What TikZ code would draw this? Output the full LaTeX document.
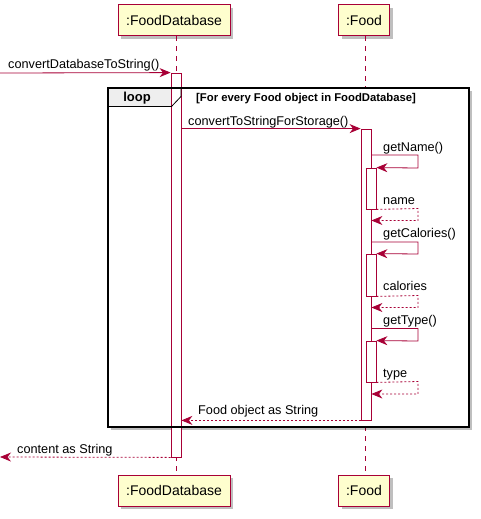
\documentclass[tikz,border=0pt]{standalone}
\usepackage{fontspec}
\setmainfont{Liberation Sans}
\usetikzlibrary{arrows.meta,shadows}
\definecolor{puborder}{HTML}{A80036}
\definecolor{pufill}{HTML}{FEFECE}
\definecolor{tabfill}{HTML}{EEEEEE}
\tikzset{
  participant/.style={draw=puborder, fill=pufill, line width=1pt, minimum height=31pt, inner sep=0pt,
     font=\fontsize{14}{16}\selectfont,
     drop shadow={shadow xshift=3pt, shadow yshift=-3pt, fill=black, opacity=0.25}},
  act/.style={draw=puborder, fill=white, line width=0.8pt, minimum width=10pt, inner sep=0pt},
  lifeline/.style={draw=puborder, line width=0.8pt, dash pattern=on 5pt off 5pt},
  msg/.style={draw=puborder, line width=0.8pt, -{Stealth[length=11pt,width=9pt,inset=3.5pt]}},
  ret/.style={msg, dash pattern=on 2pt off 2pt},
  lbl/.style={font=\fontsize{12.7}{15}\selectfont, inner sep=0pt, anchor=base west},
  frame/.style={draw=black, line width=1.6pt},
}
\begin{document}
\begin{tikzpicture}[x=1pt,y=-1pt]
\useasboundingbox (0,0) rectangle (481,519);
% participants
\node[participant, minimum width=112pt] (fdTop) at (174,20.5) {:FoodDatabase};
\node[participant, minimum width=51pt] (fTop) at (364,20.5) {:Food};
\node[participant, minimum width=112pt] (fdBot) at (174,490.5) {:FoodDatabase};
\node[participant, minimum width=51pt] (fBot) at (364,490.5) {:Food};
% lifelines
\coordinate (l1a) at (176.5,36);
\coordinate (l1b) at (176.5,475);
\coordinate (l2a) at (365,36);
\coordinate (l2b) at (365,475);
\draw[lifeline] (l1a) -- (l1b);
\draw[lifeline] (l2a) -- (l2b);
% loop frame
\fill[black, opacity=0.25] (111,91) rectangle (472,430);
\fill[white] (108,88) rectangle (469,427);
\draw[fill=tabfill, line width=0.8pt] (108,88) -- (181,88) -- (181,96.5) -- (171.5,106.5) -- (108,106.5) -- cycle;
\node[font=\bfseries\fontsize{13}{15}\selectfont, inner sep=0pt] (looplbl) at (137,98) {loop};
\node[font=\bfseries\fontsize{11.3}{13}\selectfont, inner sep=0pt, anchor=west] (cond) at (196,99) {[For every Food object in FoodDatabase]};
% activations
\node[act, minimum height=384pt] (a1) at (176,265) {};
\node[act, minimum height=291pt] (a2) at (366,274.5) {};
\node[act, minimum height=41pt] (a3) at (371,188.5) {};
\node[act, minimum height=42pt] (a4) at (371,275) {};
\node[act, minimum height=41pt] (a5) at (371,361.5) {};
\draw[frame] (108,88) rectangle (469,427);
% redraw tab border over frame
\draw[line width=0.8pt] (181,88) -- (181,96.5) -- (171.5,106.5) -- (108,106.5);
% messages
\coordinate (src) at (0,73);
\draw[msg] (src) -- (a1.north west);
\node[lbl] (m1) at (8,69) {convertDatabaseToString()};
\draw[msg] (a1.east |- a2.north) -- (a2.north west);
\node[lbl] (m2) at (188,125) {convertToStringForStorage()};
% getName
\coordinate (s1a) at (418,155);
\coordinate (s1b) at (418,168);
\draw[msg] (a2.east |- s1a) -- (s1a) -- (s1b) -- (a3.north east);
\node[lbl] (m3) at (383,151) {getName()};
\coordinate (r1a) at (418,208.5);
\coordinate (r1b) at (418,220.5);
\draw[ret] (a3.south east) -- (r1a) -- (r1b) -- (a2.east |- r1b);
\node[lbl] (m4) at (383,204) {name};
% getCalories
\coordinate (s2a) at (418,242);
\coordinate (s2b) at (418,254);
\draw[msg] (a2.east |- s2a) -- (s2a) -- (s2b) -- (a4.north east);
\node[lbl] (m5) at (383,237) {getCalories()};
\coordinate (r2a) at (418,295.5);
\coordinate (r2b) at (418,307.5);
\draw[ret] (a4.south east) -- (r2a) -- (r2b) -- (a2.east |- r2b);
\node[lbl] (m6) at (383,290) {calories};
% getType
\coordinate (s3a) at (418,328.5);
\coordinate (s3b) at (418,341);
\draw[msg] (a2.east |- s3a) -- (s3a) -- (s3b) -- (a5.north east);
\node[lbl] (m7) at (383,324) {getType()};
\coordinate (r3a) at (418,381.5);
\coordinate (r3b) at (418,394);
\draw[ret] (a5.south east) -- (r3a) -- (r3b) -- (a2.east |- r3b);
\node[lbl] (m8) at (383,377) {type};
% returns
\draw[ret] (a2.south west) -- (a1.east |- a2.south);
\node[lbl] (m9) at (198,414.5) {Food object as String};
\coordinate (dst) at (0,457);
\draw[ret] (a1.south west) -- (dst);
\node[lbl] (m10) at (17,453) {content as String};
\end{tikzpicture}
\end{document}
